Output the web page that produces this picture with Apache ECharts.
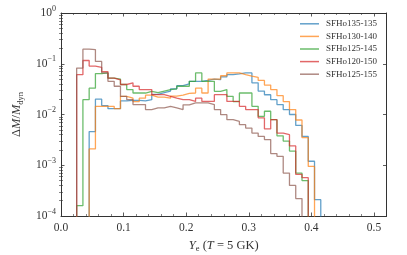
<!DOCTYPE html>
<html><head><meta charset="utf-8">
<script src="https://cdn.jsdelivr.net/npm/echarts@6/dist/echarts.min.js"></script>
<style>html,body{margin:0;padding:0;background:#fff}#c{width:407px;height:255px}</style>
</head><body><div id="c"></div>
<script>
// ---- data ----
const binCenters = [0.03,0.04,0.05,0.06,0.07,0.08,0.09,0.10,0.11,0.12,0.13,0.14,0.15,0.16,0.17,0.18,0.19,0.20,0.21,0.22,0.23,0.24,0.25,0.26,0.27,0.28,0.29,0.30,0.31,0.32,0.33,0.34,0.35,0.36,0.37,0.38,0.39,0.40,0.41];
const binWidth = 0.01;
const seriesNames = ['SFHo135-135','SFHo130-140','SFHo125-145','SFHo120-150','SFHo125-155'];
const sfho135_135 = [null,null,0.0046,0.020,0.015,0.013,0.013,0.0185,0.019,0.019,0.0185,0.0196,0.025,0.027,0.029,0.032,0.037,0.040,0.045,0.045,0.047,0.050,0.0485,0.055,0.061,0.063,0.066,0.066,0.042,0.029,0.0245,0.0196,0.0157,0.0125,0.0100,0.0061,0.0037,0.0012,0.00021];
const sfho130_140 = [null,null,0.0021,0.0145,0.0145,0.0145,0.0130,0.0228,0.021,0.018,0.021,0.024,0.022,0.022,0.021,0.023,0.024,0.026,0.0265,0.033,0.0265,0.050,0.050,0.058,0.066,0.066,0.061,0.057,0.054,0.047,0.038,0.031,0.0235,0.018,0.0125,0.0078,0.0035,0.00095,null];
const sfho125_145 = [0.00016,0.0196,0.033,0.064,0.066,0.052,0.050,0.039,0.031,0.0265,0.0265,0.0286,0.027,0.029,0.031,0.032,0.036,0.036,0.045,0.066,0.045,0.045,0.0286,0.031,0.0228,0.018,0.0265,0.0265,0.0145,0.0092,0.0116,0.0079,0.0038,0.0030,0.0019,0.0007,0.0005,null,null];
const sfho120_150 = [0.061,0.116,0.090,0.085,0.070,0.052,0.048,0.039,0.042,0.036,0.031,0.031,0.0246,0.0246,0.0228,0.021,0.0196,0.0196,0.0181,0.021,0.0181,0.0181,0.0246,0.0246,0.0181,0.0181,0.0145,0.0125,0.0125,0.0086,0.0052,0.0079,0.0043,0.0040,0.0024,0.00066,0.00057,null,null];
const sfho125_155 = [0.082,0.194,0.190,0.111,0.066,0.045,0.036,0.0228,0.0196,0.0157,0.0157,0.0125,0.0135,0.0135,0.0145,0.0135,0.0125,0.0155,0.0169,0.0169,0.0169,0.0157,0.0125,0.0099,0.0079,0.0073,0.0063,0.0054,0.0043,0.0037,0.0032,0.0017,0.0015,0.00070,0.00040,0.00022,null,null,null];
const xTickValues = [0.0,0.1,0.2,0.3,0.4,0.5];
const seriesColors = ['#1f77b4','#ff7f0e','#2ca02c','#d62728','#8c564b'];
// ---- build ----
const F = 'Liberation Serif';
const allVals = [sfho135_135,sfho130_140,sfho125_145,sfho120_150,sfho125_155];
const FLOOR = 1e-7;
function stepPoints(vals){
  const pts = [];
  let first = -1, last = -1;
  vals.forEach((v,i)=>{ if(v!=null){ if(first<0) first=i; last=i; } });
  pts.push([binCenters[first]-binWidth/2, FLOOR]);
  for(let i=first;i<=last;i++){
    const v = vals[i];
    pts.push([binCenters[i]-binWidth/2, v]);
    pts.push([binCenters[i]+binWidth/2, v]);
  }
  pts.push([binCenters[last]+binWidth/2, FLOOR]);
  return pts;
}
const minorY = [];
for(let e=-4;e<0;e++){ for(let m=2;m<=9;m++){ minorY.push(m*Math.pow(10,e)); } }
const axisCol = '#333';
const supRich = {
  b:{fontSize:11.5,fontFamily:F,color:axisCol,lineHeight:17,verticalAlign:'middle'},
  s:{fontSize:8,fontFamily:F,color:axisCol,lineHeight:9,verticalAlign:'top'}
};
const yLabelFmt = v => { const e = Math.round(Math.log10(v)); return '{b|10}{s|' + (e<0 ? '\u2212'+(-e) : e) + '}'; };
const chart = echarts.init(document.getElementById('c'), null, {renderer:'canvas'});
const grid = {left:61, right:20.5, top:13, bottom:39, containLabel:false, outerBoundsMode:'none'};
const xCommon = {type:'value', min:0, max:0.52, interval:0.1, splitLine:{show:false}};
const yCommon = {type:'log', logBase:10, min:1e-4, max:1, splitLine:{show:false}};
const nameRich = {
  i:{fontFamily:F, fontStyle:'italic', fontSize:12.5, color:axisCol, lineHeight:16},
  r:{fontFamily:F, fontSize:12.5, color:axisCol, lineHeight:16},
  sub:{fontFamily:F, fontSize:8.5, color:axisCol, lineHeight:9, verticalAlign:'bottom'}
};
chart.setOption({
  animation:false,
  backgroundColor:'#fff',
  grid: grid,
  legend:{
    orient:'vertical', left:300, top:19, padding:0, itemGap:3,
    itemWidth:19, itemHeight:1.5, icon:'rect',
    textStyle:{fontFamily:F, fontSize:9, color:'#333', lineHeight:9.6, padding:[0,0,0,2]},
    data: seriesNames.map((n,i)=>({name:n, itemStyle:{color:seriesColors[i], opacity:0.7}}))
  },
  xAxis:[
    Object.assign({}, xCommon, {position:'bottom',
      axisLine:{show:true, onZero:false, lineStyle:{color:axisCol,width:1}},
      axisTick:{inside:true, length:3.5, lineStyle:{color:axisCol,width:0.8}},
      minorTick:{show:true, splitNumber:5, length:2, lineStyle:{color:axisCol,width:0.6}},
      axisLabel:{margin:6, fontFamily:F, fontSize:11.5, color:axisCol, showMaxLabel:false, formatter:v=>v.toFixed(1)},
      name:'{i|Y}{sub|e}{r| (}{i|T}{r| = 5 GK)}', nameLocation:'middle', nameGap:20,
      nameTextStyle:{rich:nameRich}
    }),
    Object.assign({}, xCommon, {position:'top',
      axisLine:{show:true, onZero:false, lineStyle:{color:axisCol,width:1}},
      axisTick:{inside:true, length:3.5, lineStyle:{color:axisCol,width:0.8}},
      minorTick:{show:true, splitNumber:5, length:2, lineStyle:{color:axisCol,width:0.6}},
      axisLabel:{show:false}
    })
  ],
  yAxis:[
    Object.assign({}, yCommon, {position:'left',
      axisLine:{show:true, onZero:false, lineStyle:{color:axisCol,width:1}},
      axisTick:{inside:true, length:3.5, lineStyle:{color:axisCol,width:0.8}},
      axisLabel:{margin:5, formatter:yLabelFmt, rich:supRich},
      name:'{r|\u0394}{i|M}{r|/}{i|M}{sub|dyn}', nameLocation:'middle', nameRotate:90, nameGap:31,
      nameTextStyle:{rich:nameRich}
    }),
    Object.assign({}, yCommon, {position:'right',
      axisLine:{show:true, onZero:false, lineStyle:{color:axisCol,width:1}},
      axisTick:{inside:true, length:3.5, lineStyle:{color:axisCol,width:0.8}},
      axisLabel:{show:false}
    }),
    Object.assign({}, yCommon, {position:'left',
      axisLine:{show:false},
      axisTick:{inside:true, length:2, customValues:minorY, lineStyle:{color:axisCol,width:0.6}},
      axisLabel:{show:false}
    }),
    Object.assign({}, yCommon, {position:'right',
      axisLine:{show:false},
      axisTick:{inside:true, length:2, customValues:minorY, lineStyle:{color:axisCol,width:0.6}},
      axisLabel:{show:false}
    })
  ],
  series: allVals.map((vals,i)=>({
    name: seriesNames[i], type:'line', xAxisIndex:0, yAxisIndex:0,
    data: stepPoints(vals), symbol:'none', clip:true,
    color: seriesColors[i],
    lineStyle:{width:1.3, opacity:0.7, color:seriesColors[i]}
  }))
});
</script></body></html>
